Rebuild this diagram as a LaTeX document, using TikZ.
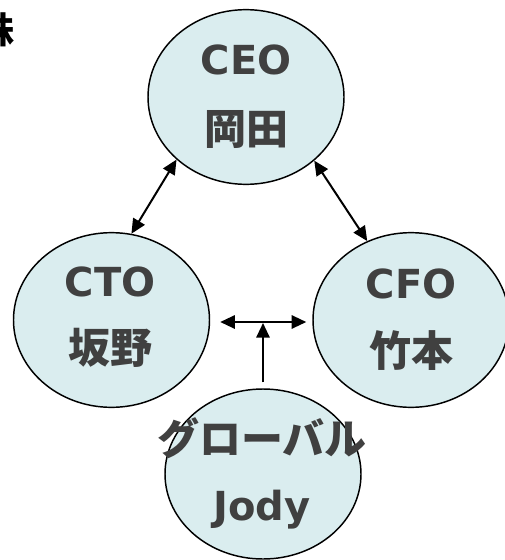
\documentclass[tikz,border=0pt]{standalone}
\usepackage{fontspec}
\setmainfont{DejaVu Sans}
\newfontfamily\jp{Noto Sans CJK JP}
\usetikzlibrary{shapes.geometric,arrows.meta}
\definecolor{bub}{HTML}{DAEDEF}
\definecolor{txt}{HTML}{404040}
\begin{document}
\begin{tikzpicture}[x=0.75pt,y=-0.75pt,
 bubble/.style={ellipse,draw=black,line width=1.1pt,fill=bub,minimum width=147pt,minimum height=131pt,inner sep=0pt},
 lat/.style={font=\fontsize{30}{36}\selectfont\bfseries,text=txt,inner sep=0pt},
 kan/.style={font=\fontsize{31.5}{36}\selectfont\jp\bfseries,text=txt,inner sep=0pt},
 link/.style={line width=1.5pt,{Triangle[length=11pt,width=10pt]}-{Triangle[length=11pt,width=10pt]}},
 uparrow/.style={line width=1.5pt,-{Triangle[length=11pt,width=10pt]}}]
\useasboundingbox (0,0) rectangle (504,560);
\node[bubble] (ceo) at (246,97) {};
\node[bubble] (cto) at (111.5,320) {};
\node[bubble] (cfo) at (411,320) {};
\node[bubble,minimum height=127.5pt] (jody) at (263,474) {};
\draw[link] (ceo.222.9) -- (cto.77.6);
\draw[link] (ceo.317.1) -- (cfo.119);
\draw[link] ([xshift=7.5pt,yshift=-1.5pt]cto.east) -- ([xshift=-4.5pt,yshift=-1.5pt]cfo.west);
\coordinate (hm) at (263,323);
\draw[uparrow] ([yshift=4.5pt]jody.north) -- (hm);
\node[lat] (t1) at (246,60) {CEO};
\node[kan] (t2) at (246,130) {岡田};
\node[lat] (t3) at (110,282) {CTO};
\node[kan] (t4) at (110,348) {坂野};
\node[lat] (t5) at (411,284) {CFO};
\node[kan] (t6) at (411,351) {竹本};
\node[kan] (t7) at (262,438) {グローバル};
\node[lat] (t8) at (262,510) {Jody};
\node[font=\fontsize{27}{30}\selectfont\jp\bfseries,anchor=east,inner sep=0pt] (t0) at (15,30) {株};
\end{tikzpicture}
\end{document}
